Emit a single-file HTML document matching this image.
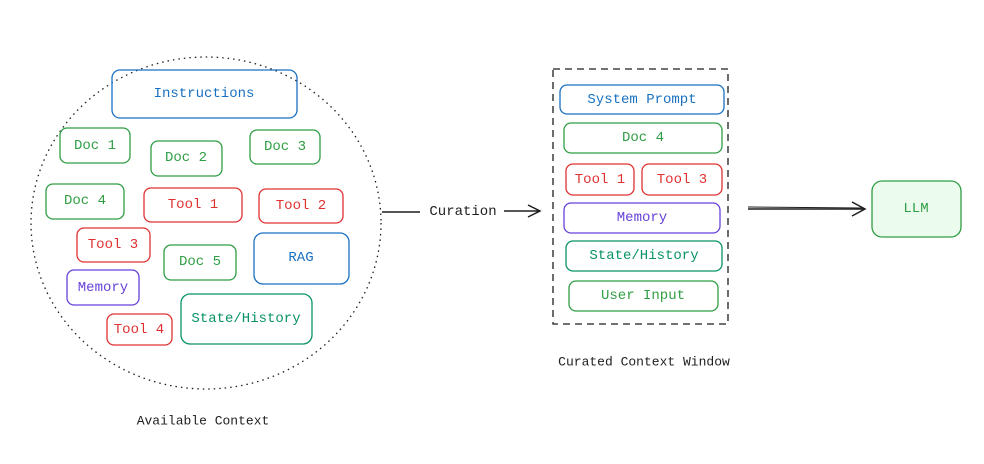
<!DOCTYPE html>
<html><head><meta charset="utf-8"><style>
body{margin:0;background:#fff;}
svg text{font-family:"Liberation Mono","DejaVu Sans Mono",monospace;font-size:14px;text-anchor:middle;dominant-baseline:central;}
</style></head><body>
<svg width="984" height="459" viewBox="0 0 984 459" xmlns="http://www.w3.org/2000/svg">
<ellipse cx="206" cy="223" rx="175" ry="166" fill="none" stroke="#1e1e1e" stroke-width="1.3" stroke-dasharray="1.5 4"/>
<g fill="none" stroke-width="1.3">
<rect x="112" y="70" width="185" height="48" rx="8" stroke="#1971c2"/>
<rect x="60" y="128" width="70" height="35" rx="7" stroke="#2f9e44"/>
<rect x="151" y="141" width="71" height="35" rx="7" stroke="#2f9e44"/>
<rect x="250" y="130" width="70" height="34" rx="7" stroke="#2f9e44"/>
<rect x="46" y="184" width="78" height="35" rx="7" stroke="#2f9e44"/>
<rect x="144" y="188" width="98" height="34" rx="7" stroke="#e03131"/>
<rect x="259" y="189" width="84" height="34" rx="7" stroke="#e03131"/>
<rect x="77" y="228" width="73" height="34" rx="7" stroke="#e03131"/>
<rect x="164" y="245" width="72" height="35" rx="7" stroke="#2f9e44"/>
<rect x="254" y="233" width="95" height="51" rx="9" stroke="#1971c2"/>
<rect x="67" y="270" width="72" height="35" rx="7" stroke="#6741d9"/>
<rect x="107" y="314" width="65" height="31" rx="7" stroke="#e03131"/>
<rect x="181" y="294" width="131" height="50" rx="9" stroke="#099268"/>
<rect x="553" y="69" width="175" height="255" stroke="#1e1e1e" stroke-dasharray="7 5"/>
<rect x="560" y="85" width="164" height="29" rx="7" stroke="#1971c2"/>
<rect x="564" y="123" width="158" height="30" rx="7" stroke="#2f9e44"/>
<rect x="566" y="164" width="68" height="31" rx="7" stroke="#e03131"/>
<rect x="642" y="164" width="80" height="31" rx="7" stroke="#e03131"/>
<rect x="564" y="203" width="156" height="30" rx="7" stroke="#6741d9"/>
<rect x="566" y="241" width="156" height="30" rx="7" stroke="#099268"/>
<rect x="569" y="281" width="149" height="30" rx="7" stroke="#2f9e44"/>
<rect x="872" y="181" width="89" height="56" rx="10" stroke="#2f9e44" fill="#ebfbee"/>
</g>
<g stroke="#1e1e1e" stroke-width="1.5" fill="none">
<path d="M382 212 L420 212"/>
<path d="M504 211 L540 211 M528 205 L540 211 L528 217"/>
<path d="M748 209 L865 209 M852 202 L865 209 L852 216"/>
<path d="M748 207 L862 208" stroke-width="1"/>
</g>
<g>
<text x="204" y="94" fill="#1971c2">Instructions</text>
<text x="95" y="146" fill="#2f9e44">Doc 1</text>
<text x="186" y="158" fill="#2f9e44">Doc 2</text>
<text x="285" y="147" fill="#2f9e44">Doc 3</text>
<text x="85" y="201" fill="#2f9e44">Doc 4</text>
<text x="193" y="205" fill="#e03131">Tool 1</text>
<text x="301" y="206" fill="#e03131">Tool 2</text>
<text x="113" y="245" fill="#e03131">Tool 3</text>
<text x="200" y="262" fill="#2f9e44">Doc 5</text>
<text x="301" y="258" fill="#1971c2">RAG</text>
<text x="103" y="288" fill="#6741d9">Memory</text>
<text x="139" y="330" fill="#e03131">Tool 4</text>
<text x="246" y="319" fill="#099268">State/History</text>
<text x="463" y="212" fill="#1e1e1e">Curation</text>
<text x="642" y="100" fill="#1971c2">System Prompt</text>
<text x="643" y="138" fill="#2f9e44">Doc 4</text>
<text x="600" y="180" fill="#e03131">Tool 1</text>
<text x="682" y="180" fill="#e03131">Tool 3</text>
<text x="642" y="218" fill="#6741d9">Memory</text>
<text x="644" y="256" fill="#099268">State/History</text>
<text x="643" y="296" fill="#2f9e44">User Input</text>
<text x="916" y="209" fill="#2f9e44">LLM</text>
<text x="644" y="362" fill="#1e1e1e" style="font-size:13px">Curated Context Window</text>
<text x="203" y="421" fill="#1e1e1e" style="font-size:13px">Available Context</text>
</g>
</svg>
</body></html>
